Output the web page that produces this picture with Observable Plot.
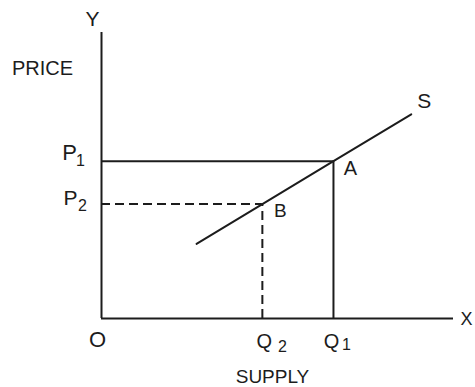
<!DOCTYPE html>
<html><head><meta charset="utf-8">
<script src="https://cdn.jsdelivr.net/npm/d3@7"></script>
<script src="https://cdn.jsdelivr.net/npm/@observablehq/plot@0.6"></script>
<style>html,body{margin:0;padding:0;background:#fff}</style>
</head><body><div id="chart"></div>
<script>
// Supply curve (quantity, price)
const supplyQuantity = [2.7, 4.57, 6.59, 8.8];
const supplyPrice = [2.61, 4.0, 5.5, 7.14];
// Equilibrium points
const Q1 = 6.59, Q2 = 4.57;
const P1 = 5.5, P2 = 4.0;
const axisMax = 10;

const supply = supplyQuantity.map((q, i) => ({q, p: supplyPrice[i]}));
const ink = "#1c1c1c";
const font = "Liberation Sans, Arial, sans-serif";

function label(text, x, y, dx, dy, size, extra = {}) {
  return Plot.text([text], {x: () => x, y: () => y, text: d => d, dx, dy,
    fontSize: size, fill: ink, fontFamily: font, ...extra});
}

const chart = Plot.plot({
  width: 475, height: 387,
  marginLeft: 101, marginRight: 22, marginTop: 32, marginBottom: 69,
  x: {domain: [0, axisMax], axis: null},
  y: {domain: [0, axisMax], axis: null},
  style: {background: "#fff", fontFamily: font},
  marks: [
    // axes
    Plot.ruleX([0], {y1: 0, y2: axisMax, stroke: ink, strokeWidth: 2}),
    Plot.ruleY([0], {x1: 0, x2: axisMax, stroke: ink, strokeWidth: 2}),
    // P1 / Q1 solid guides
    Plot.ruleY([P1], {x1: 0, x2: Q1, stroke: ink, strokeWidth: 2}),
    Plot.ruleX([Q1], {y1: 0, y2: P1, stroke: ink, strokeWidth: 2}),
    // P2 / Q2 dashed guides
    Plot.ruleY([P2], {x1: 0, x2: Q2, stroke: ink, strokeWidth: 2, strokeDasharray: "9,5"}),
    Plot.ruleX([Q2], {y1: 0, y2: P2, stroke: ink, strokeWidth: 2, strokeDasharray: "9,5"}),
    // supply curve
    Plot.line(supply, {x: "q", y: "p", stroke: ink, strokeWidth: 2}),
    // labels
    label("Y", 0, axisMax, -9, -13, 21),
    label("PRICE", 0, axisMax, -59, 36, 20),
    label("X", axisMax, 0, 13, 1, 18),
    label("O", 0, 0, -4, 21, 22),
    label("SUPPLY", axisMax / 2, 0, -5, 58, 19),
    label("Q", Q2, 0, 2, 23, 20),
    label("2", Q2, 0, 20, 28, 16),
    label("Q", Q1, 0, -2, 23, 20),
    label("1", Q1, 0, 13, 26, 16),
    label("P", 0, P1, -32, -8, 22),
    label("1", 0, P1, -21, 0, 16),
    label("P", 0, P2, -31, -6, 21),
    label("2", 0, P2, -19, 2, 16),
    label("A", Q1, P1, 17, 7, 20),
    label("B", Q2, P2, 18, 7, 19),
    label("S", supplyQuantity[supplyQuantity.length - 1], supplyPrice[supplyPrice.length - 1], 13, -13, 21)
  ]
});
document.getElementById("chart").append(chart);
</script>
</body></html>
